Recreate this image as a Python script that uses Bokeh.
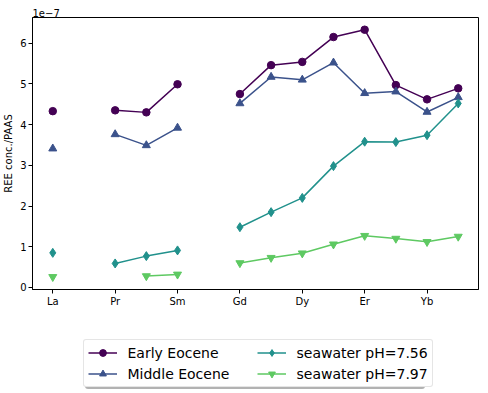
import numpy as np
from bokeh.plotting import figure
from bokeh.layouts import column
from bokeh.models import Legend, LegendItem, FixedTicker, Title
from bokeh.embed import file_html
from bokeh.resources import INLINE

nan = float("nan")

# REE elements (x positions 0..13); tick labels on every other element
elements = ["La", "Ce", "Pr", "Nd", "Sm", "Eu", "Gd", "Tb", "Dy", "Ho", "Er", "Tm", "Yb", "Lu"]
tick_labels = ["La", "Pr", "Sm", "Gd", "Dy", "Er", "Yb"]

# values in units of 1e-7 (REE conc./PAAS)
early_eocene = [4.33, nan, 4.35, 4.30, 4.99, nan, 4.75, 5.46, 5.54, 6.15, 6.33, 4.97, 4.62, 4.89]
middle_eocene = [3.41, nan, 3.76, 3.49, 3.92, nan, 4.52, 5.17, 5.10, 5.52, 4.77, 4.81, 4.31, 4.67]
seawater_756 = [0.85, nan, 0.59, 0.77, 0.91, nan, 1.48, 1.85, 2.20, 2.98, 3.58, 3.57, 3.74, 4.52]
seawater_797 = [0.26, nan, nan, 0.28, 0.32, nan, 0.60, 0.73, 0.84, 1.06, 1.27, 1.20, 1.12, 1.25]

series_names = ["Early Eocene", "Middle Eocene", "seawater pH=7.56", "seawater pH=7.97"]
series_values = [early_eocene, middle_eocene, seawater_756, seawater_797]
colors = ["#440154", "#3b528b", "#21918c", "#5ec962"]
markers = ["circle", "triangle", "diamond", "inverted_triangle"]
marker_sizes = [7.5, 8, 9, 8]

x = list(range(len(elements)))

TOTAL_W = 484
p = figure(
    output_backend="svg", toolbar_location=None,
    frame_width=446, frame_height=272,
    min_border_left=31, min_border_right=7, min_border_top=17, min_border_bottom=20,
    x_range=(-0.65, 13.65), y_range=(-0.05, 6.63),
)
p.background_fill_color = "white"
p.border_fill_color = "white"
p.outline_line_color = "black"
p.outline_line_width = 1
p.xgrid.visible = False
p.ygrid.visible = False

# scale offset text shown as a left-aligned title above the frame
p.title = Title(text="1e\u22127", align="left", text_font="DejaVu Sans",
                text_font_size="10px", text_font_style="normal", text_color="black",
                standoff=2, offset=0)

for name, vals, col, mk, ms in zip(series_names, series_values, colors, markers, marker_sizes):
    y = np.array(vals, dtype=float)
    p.line(x, y, line_color=col, line_width=1.5)
    p.scatter(x, y, marker=mk, size=ms, fill_color=col, line_color=col)

# axes
tick_pos = [elements.index(t) for t in tick_labels]
p.xaxis.ticker = FixedTicker(ticks=tick_pos)
p.xaxis.major_label_overrides = {i: t for i, t in zip(tick_pos, tick_labels)}
p.yaxis.ticker = FixedTicker(ticks=[0, 1, 2, 3, 4, 5, 6])
for ax in (p.xaxis, p.yaxis):
    ax.axis_line_color = "black"
    ax.major_tick_line_color = "black"
    ax.major_tick_in = 0
    ax.major_tick_out = 4
    ax.minor_tick_line_color = None
    ax.major_label_text_font = "DejaVu Sans"
    ax.major_label_text_font_size = "10px"
    ax.major_label_text_color = "black"
    ax.major_label_standoff = 2
p.yaxis.axis_label = "REE conc./PAAS"
p.yaxis.axis_label_text_font = "DejaVu Sans"
p.yaxis.axis_label_text_font_size = "10px"
p.yaxis.axis_label_text_font_style = "normal"
p.yaxis.axis_label_text_color = "black"
p.yaxis.axis_label_standoff = 3

# legend strip below the plot
LEG_H = 88
p2 = figure(
    output_backend="svg", toolbar_location=None,
    frame_width=TOTAL_W, frame_height=LEG_H,
    min_border=0, x_range=(0, 1), y_range=(0, 1),
)
p2.outline_line_color = None
p2.axis.visible = False
p2.xgrid.visible = False
p2.ygrid.visible = False
p2.background_fill_color = "white"
p2.border_fill_color = "white"

# legend-only placeholder renderers (no visible data)
items = []
shadow_items = []
for name, col, mk, ms in zip(series_names, colors, markers, marker_sizes):
    r1 = p2.line(x=[nan], y=[nan], line_color=col, line_width=1.5)
    r2 = p2.scatter(x=[nan], y=[nan], marker=mk, size=ms, fill_color=col, line_color=col)
    items.append(LegendItem(label=name, renderers=[r1, r2]))
    shadow_items.append(LegendItem(label=" ", renderers=[r1]))

LEG_LEFT, LEG_BOTTOM = 82.5, 10


def style_legend(lg):
    lg.label_text_font = "DejaVu Sans"
    lg.label_text_font_size = "14px"
    lg.label_text_color = "black"
    lg.glyph_width = 29
    lg.glyph_height = 17
    lg.label_height = 17
    lg.label_standoff = 11
    lg.spacing = 4
    lg.padding = 4
    lg.margin = 0
    if "border_radius" in Legend.properties():
        lg.border_radius = 3


# shadow: same-size box, offset 2px right/down
shadow = Legend(items=shadow_items, location=(LEG_LEFT + 2, LEG_BOTTOM - 2),
                orientation="vertical", nrows=2)
style_legend(shadow)
shadow.label_width = 128
shadow.border_line_color = None
shadow.background_fill_color = "black"
shadow.background_fill_alpha = 0.3
p2.add_layout(shadow, "center")

legend = Legend(items=items, location=(LEG_LEFT, LEG_BOTTOM), orientation="vertical", nrows=2)
style_legend(legend)
legend.label_width = 125
legend.border_line_color = "#cccccc"
legend.border_line_width = 1
legend.background_fill_color = "white"
legend.background_fill_alpha = 1.0
p2.add_layout(legend, "center")

layout = column(p, p2, spacing=0)
open("out.html", "w").write(file_html(layout, INLINE))
